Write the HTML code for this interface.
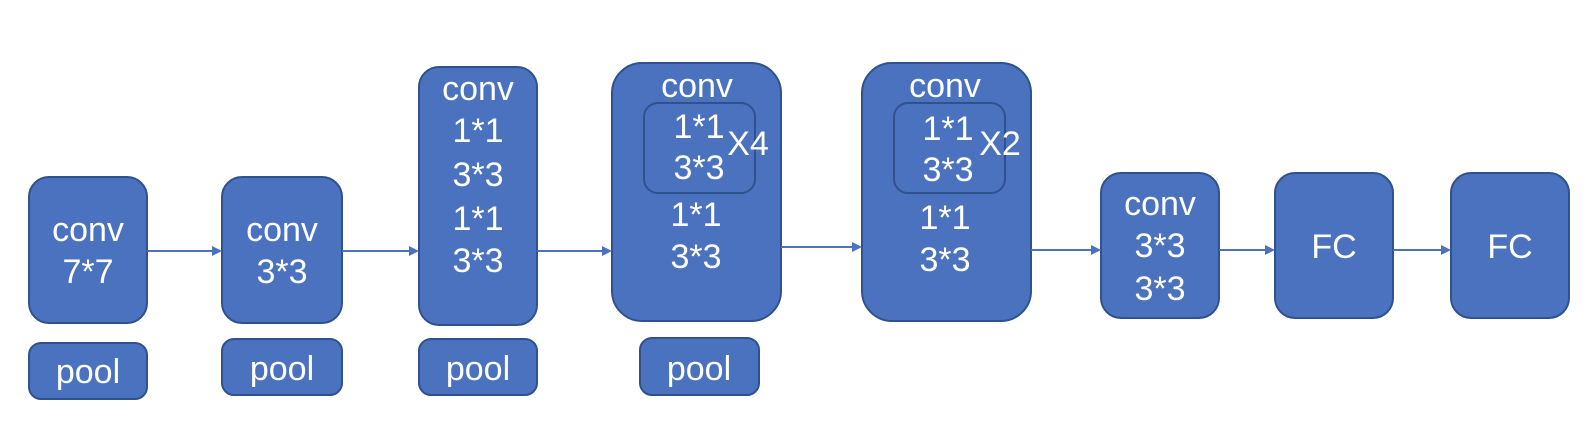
<!DOCTYPE html>
<html><head><meta charset="utf-8"><style>
html,body{margin:0;padding:0;background:#fff;}
svg{display:block;}
text{font-family:"Liberation Sans",sans-serif;font-size:34px;fill:#fff;text-anchor:middle;}
.b{fill:#4a72be;stroke:#2f528f;stroke-width:2;}
.i{fill:none;stroke:#2f528f;stroke-width:2;}
.a{stroke:#4a72be;stroke-width:2;}
.h{fill:#4a72be;}
</style></head><body>
<svg width="1588" height="422" viewBox="0 0 1588 422" xmlns="http://www.w3.org/2000/svg">
<g>
<rect class="b" x="29" y="177" width="118" height="146" rx="20"/>
<text x="88" y="241">conv</text><text x="88" y="283">7*7</text>
<rect class="b" x="29" y="343" width="118" height="56" rx="12"/>
<text x="88" y="383">pool</text>
</g>
<g>
<rect class="b" x="222" y="177" width="120" height="146" rx="20"/>
<text x="282" y="241">conv</text><text x="282" y="283">3*3</text>
<rect class="b" x="222" y="339" width="120" height="56" rx="12"/>
<text x="282" y="380">pool</text>
</g>
<g>
<rect class="b" x="419" y="67" width="118" height="258" rx="20"/>
<text x="478" y="100">conv</text><text x="478" y="142">1*1</text><text x="478" y="186">3*3</text><text x="478" y="230">1*1</text><text x="478" y="272">3*3</text>
<rect class="b" x="419" y="339" width="118" height="56" rx="12"/>
<text x="478" y="380">pool</text>
</g>
<g>
<rect class="b" x="612" y="63" width="169" height="258" rx="30"/>
<text x="697" y="97">conv</text>
<rect class="i" x="644" y="103" width="111" height="90" rx="14"/>
<text x="699" y="138">1*1</text><text x="699" y="179">3*3</text>
<text x="748" y="155">X4</text>
<text x="696" y="226">1*1</text><text x="696" y="268">3*3</text>
<rect class="b" x="640" y="338" width="119" height="57" rx="12"/>
<text x="699" y="380">pool</text>
</g>
<g>
<rect class="b" x="862" y="63" width="169" height="258" rx="30"/>
<text x="945" y="97">conv</text>
<rect class="i" x="894" y="103" width="111" height="90" rx="14"/>
<text x="948" y="140">1*1</text><text x="948" y="181">3*3</text>
<text x="1000" y="155">X2</text>
<text x="945" y="229">1*1</text><text x="945" y="271">3*3</text>
</g>
<g>
<rect class="b" x="1101" y="173" width="118" height="145" rx="20"/>
<text x="1160" y="215">conv</text><text x="1160" y="257">3*3</text><text x="1160" y="300">3*3</text>
</g>
<g>
<rect class="b" x="1275" y="173" width="118" height="145" rx="20"/>
<text x="1334" y="258">FC</text>
</g>
<g>
<rect class="b" x="1451" y="173" width="118" height="145" rx="20"/>
<text x="1510" y="258">FC</text>
</g>
<g>
<line class="a" x1="147" y1="251" x2="214" y2="251"/><polygon class="h" points="222,251 212,246 212,256"/>
<line class="a" x1="342" y1="251" x2="411" y2="251"/><polygon class="h" points="419,251 409,246 409,256"/>
<line class="a" x1="537" y1="251" x2="604" y2="251"/><polygon class="h" points="612,251 602,246 602,256"/>
<line class="a" x1="781" y1="247" x2="854" y2="247"/><polygon class="h" points="862,247 852,242 852,252"/>
<line class="a" x1="1031" y1="250" x2="1093" y2="250"/><polygon class="h" points="1101,250 1091,245 1091,255"/>
<line class="a" x1="1219" y1="250" x2="1267" y2="250"/><polygon class="h" points="1275,250 1265,245 1265,255"/>
<line class="a" x1="1393" y1="250" x2="1443" y2="250"/><polygon class="h" points="1451,250 1441,245 1441,255"/>
</g>
</svg>
</body></html>
